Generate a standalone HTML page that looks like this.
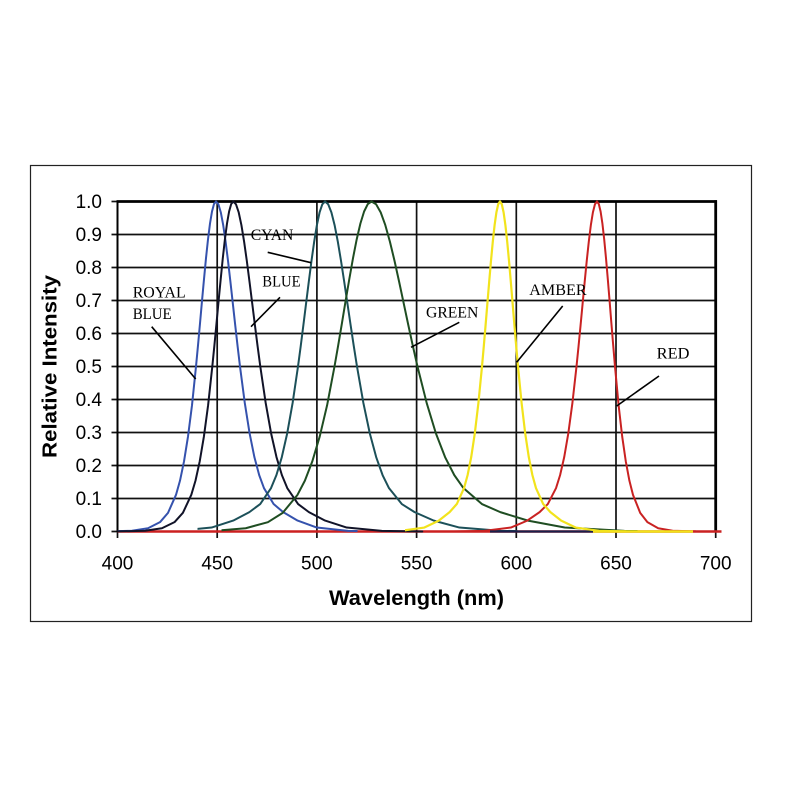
<!DOCTYPE html>
<html>
<head>
<meta charset="utf-8">
<style>
  html,body{margin:0;padding:0;background:#fff;}
  svg{display:block;}
  .tick{font-family:"Liberation Sans",Arial,sans-serif;font-size:19px;fill:#000;}
  .ann{font-family:"Liberation Serif","Times New Roman",serif;font-size:16px;fill:#000;}
  .c path{fill:none;vector-effect:non-scaling-stroke;stroke-linejoin:round;stroke-linecap:round;}
</style>
</head>
<body>
<svg width="800" height="800" viewBox="0 0 800 800" xmlns="http://www.w3.org/2000/svg">
  <defs>
    <clipPath id="crb" clipPathUnits="userSpaceOnUse"><rect x="117.5" y="195" width="240" height="345"/></clipPath>
    <clipPath id="cbl" clipPathUnits="userSpaceOnUse"><rect x="117.5" y="195" width="320" height="345"/></clipPath>
    <clipPath id="ccy" clipPathUnits="userSpaceOnUse"><rect x="197.5" y="195" width="320" height="345"/></clipPath>
    <clipPath id="cgr" clipPathUnits="userSpaceOnUse"><rect x="221.5" y="195" width="416" height="345"/></clipPath>
    <clipPath id="cam" clipPathUnits="userSpaceOnUse"><rect x="405" y="195" width="288.5" height="345"/></clipPath>
    <clipPath id="crd" clipPathUnits="userSpaceOnUse"><rect x="117.5" y="195" width="604" height="345"/></clipPath>
  </defs>

  <rect x="0" y="0" width="800" height="800" fill="#fff"/>
  <!-- outer frame -->
  <rect x="30.5" y="165.5" width="721" height="456" fill="none" stroke="#222" stroke-width="1.2"/>

  <!-- horizontal gridlines -->
  <g stroke="#111" stroke-width="1.7">
    <line x1="111.5" y1="234.5" x2="715.7" y2="234.5"/>
    <line x1="111.5" y1="267.5" x2="715.7" y2="267.5"/>
    <line x1="111.5" y1="300.5" x2="715.7" y2="300.5"/>
    <line x1="111.5" y1="333.5" x2="715.7" y2="333.5"/>
    <line x1="111.5" y1="366.5" x2="715.7" y2="366.5"/>
    <line x1="111.5" y1="399.5" x2="715.7" y2="399.5"/>
    <line x1="111.5" y1="432.5" x2="715.7" y2="432.5"/>
    <line x1="111.5" y1="465.5" x2="715.7" y2="465.5"/>
    <line x1="111.5" y1="498.5" x2="715.7" y2="498.5"/>
    <line x1="111.5" y1="531.5" x2="715.7" y2="531.5"/>
    <line x1="111.5" y1="201.5" x2="117.5" y2="201.5"/>
  </g>
  <!-- vertical gridlines and ticks -->
  <g stroke="#111" stroke-width="1.7">
    <line x1="217.2" y1="201.5" x2="217.2" y2="538"/>
    <line x1="316.9" y1="201.5" x2="316.9" y2="538"/>
    <line x1="416.6" y1="201.5" x2="416.6" y2="538"/>
    <line x1="516.3" y1="201.5" x2="516.3" y2="538"/>
    <line x1="616" y1="201.5" x2="616" y2="538"/>
    <line x1="117.5" y1="531.5" x2="117.5" y2="538"/>
    <line x1="715.7" y1="531.5" x2="715.7" y2="538"/>
  </g>
  <!-- plot borders -->
  <line x1="117.5" y1="200.5" x2="117.5" y2="532" stroke="#000" stroke-width="2"/>
  <line x1="116.5" y1="201.5" x2="717" y2="201.5" stroke="#000" stroke-width="2.8"/>
  <line x1="715.7" y1="200.2" x2="715.7" y2="532" stroke="#000" stroke-width="2.8"/>

  <!-- red baseline (underneath) -->
  <line x1="117.5" y1="531.5" x2="721.5" y2="531.5" stroke="#cc2020" stroke-width="2.4"/>

  <!-- curves -->
  <!-- Royal blue -->
  <g class="c" clip-path="url(#crb)" stroke="#3552ad" stroke-width="2">
    <g transform="translate(216,201.5) scale(-0.20,3.3)"><path d="M0,0 L10,0.77 L20,3.03 L30,6.67 L40,11.47 L50,17.17 L60,23.52 L70,30.12 L80,36.94 L90,43.59 L100,50 L120,61.75 L140,71.23 L160,78.76 L180,84.59 L200,88.89 L240,94.35 L280,97.17 L340,99.01 L420,99.76 L550,99.98 L800,100"/></g>
    <g transform="translate(216,201.5) scale(0.24,3.3)"><path d="M0,0 L10,0.84 L20,3.29 L30,7.15 L40,12.15 L50,17.95 L60,24.28 L70,30.84 L80,37.43 L90,43.85 L100,50 L120,61.08 L140,70.26 L160,77.47 L180,82.92 L200,86.87 L240,91.68 L280,94.13 L340,96.7 L420,98.8 L550,99.8 L700,100"/></g>
  </g>
  <!-- Blue -->
  <g class="c" clip-path="url(#cbl)" stroke="#111328" stroke-width="2">
    <g transform="translate(233.3,201.5) scale(-0.21,3.3)"><path d="M0,0 L10,0.77 L20,3.03 L30,6.67 L40,11.47 L50,17.17 L60,23.52 L70,30.12 L80,36.94 L90,43.59 L100,50 L120,61.75 L140,71.23 L160,78.76 L180,84.59 L200,88.89 L240,94.35 L280,97.17 L340,99.01 L420,99.76 L550,99.98 L800,100"/></g>
    <g transform="translate(233.3,201.5) scale(0.27,3.3)"><path d="M0,0 L10,0.84 L20,3.29 L30,7.15 L40,12.15 L50,17.95 L60,24.28 L70,30.84 L80,37.43 L90,43.85 L100,50 L120,61.08 L140,70.26 L160,77.47 L180,82.92 L200,86.87 L240,91.68 L280,94.13 L340,96.7 L420,98.8 L550,99.8 L700,100"/></g>
  </g>
  <!-- Cyan -->
  <g class="c" clip-path="url(#ccy)" stroke="#1c5059" stroke-width="2">
    <g transform="translate(325,201.5) scale(-0.27,3.3)"><path d="M0,0 L10,0.84 L20,3.29 L30,7.15 L40,12.15 L50,17.95 L60,24.28 L70,30.84 L80,37.43 L90,43.85 L100,50 L120,61.08 L140,70.26 L160,77.47 L180,82.92 L200,86.87 L240,91.68 L280,94.13 L340,96.7 L420,98.8 L550,99.8 L700,100"/></g>
    <g transform="translate(325,201.5) scale(0.32,3.3)"><path d="M0,0 L10,0.84 L20,3.29 L30,7.15 L40,12.15 L50,17.95 L60,24.28 L70,30.84 L80,37.43 L90,43.85 L100,50 L120,61.08 L140,70.26 L160,77.47 L180,82.92 L200,86.87 L240,91.68 L280,94.13 L340,96.7 L420,98.8 L550,99.8 L700,100"/></g>
  </g>
  <!-- Green -->
  <g class="c" clip-path="url(#cgr)" stroke="#1f4d22" stroke-width="2">
    <g transform="translate(371.5,201.5) scale(-0.37,3.3)"><path d="M0,0 L10,0.77 L20,3.03 L30,6.67 L40,11.47 L50,17.17 L60,23.52 L70,30.12 L80,36.94 L90,43.59 L100,50 L120,61.75 L140,71.23 L160,78.76 L180,84.59 L200,88.89 L240,94.35 L280,97.17 L340,99.01 L420,99.76 L550,99.98 L800,100"/></g>
    <g transform="translate(371.5,201.5) scale(0.46,3.3)"><path d="M0,0 L10,0.84 L20,3.29 L30,7.15 L40,12.15 L50,17.95 L60,24.28 L70,30.84 L80,37.43 L90,43.85 L100,50 L120,61.08 L140,70.26 L160,77.47 L180,82.92 L200,86.87 L240,91.68 L280,94.13 L340,96.7 L420,98.8 L550,99.8 L700,100"/></g>
  </g>

  <!-- Red -->
  <g class="c" clip-path="url(#crd)" stroke="#c92222" stroke-width="2">
    <g transform="translate(597,201.5) scale(-0.205,3.3)"><path d="M0,0 L10,0.84 L20,3.29 L30,7.15 L40,12.15 L50,17.95 L60,24.28 L70,30.84 L80,37.43 L90,43.85 L100,50 L120,61.08 L140,70.26 L160,77.47 L180,82.92 L200,86.87 L240,91.68 L280,94.13 L340,96.7 L420,98.8 L550,99.8 L700,100"/></g>
    <g transform="translate(597,201.5) scale(0.18,3.3)"><path d="M0,0 L10,0.77 L20,3.03 L30,6.67 L40,11.47 L50,17.17 L60,23.52 L70,30.12 L80,36.94 L90,43.59 L100,50 L120,61.75 L140,71.23 L160,78.76 L180,84.59 L200,88.89 L240,94.35 L280,97.17 L340,99.01 L420,99.76 L550,99.98 L800,100"/></g>
  </g>

  <!-- baseline segments seen in reference (above red tail) -->
  <line x1="490" y1="531.5" x2="593" y2="531.5" stroke="#1a1f4a" stroke-width="2.2"/>

  <!-- Amber (drawn above red baseline) -->
  <line x1="593" y1="531.5" x2="693" y2="531.5" stroke="#f2e31c" stroke-width="2.4"/>
  <g class="c" clip-path="url(#cam)" stroke="#f2e31c" stroke-width="2.2">
    <g transform="translate(500,201.5) scale(-0.18,3.3)"><path d="M0,0 L10,0.84 L20,3.29 L30,7.15 L40,12.15 L50,17.95 L60,24.28 L70,30.84 L80,37.43 L90,43.85 L100,50 L120,61.08 L140,70.26 L160,77.47 L180,82.92 L200,86.87 L240,91.68 L280,94.13 L340,96.7 L420,98.8 L550,99.8 L700,100"/></g>
    <g transform="translate(500,201.5) scale(0.18,3.3)"><path d="M0,0 L10,0.84 L20,3.29 L30,7.15 L40,12.15 L50,17.95 L60,24.28 L70,30.84 L80,37.43 L90,43.85 L100,50 L120,61.08 L140,70.26 L160,77.47 L180,82.92 L200,86.87 L240,91.68 L280,94.13 L340,96.7 L420,98.8 L550,99.8 L700,100"/></g>
  </g>

  <!-- leader lines -->
  <g stroke="#000" stroke-width="1.6">
    <line x1="151.7" y1="326.7" x2="195.7" y2="379"/>
    <line x1="267.7" y1="252.3" x2="311" y2="262.7"/>
    <line x1="280" y1="297.3" x2="251" y2="326.7"/>
    <line x1="459.3" y1="322.3" x2="411" y2="347.3"/>
    <line x1="562.7" y1="306" x2="516.7" y2="362.3"/>
    <line x1="659" y1="376" x2="616.7" y2="406"/>
  </g>

  <!-- annotations -->
  <text class="ann" x="132.7" y="297.3" textLength="53" lengthAdjust="spacingAndGlyphs">ROYAL</text>
  <text class="ann" x="132.7" y="319" textLength="39" lengthAdjust="spacingAndGlyphs">BLUE</text>
  <text class="ann" x="250.7" y="240" textLength="42.7" lengthAdjust="spacingAndGlyphs">CYAN</text>
  <text class="ann" x="262.3" y="286.7" textLength="38.3" lengthAdjust="spacingAndGlyphs">BLUE</text>
  <text class="ann" x="426" y="317.7" textLength="52.3" lengthAdjust="spacingAndGlyphs">GREEN</text>
  <text class="ann" x="529.3" y="295" textLength="57.3" lengthAdjust="spacingAndGlyphs">AMBER</text>
  <text class="ann" x="656.7" y="358.3" textLength="32.7" lengthAdjust="spacingAndGlyphs">RED</text>

  <!-- y tick labels -->
  <g class="tick" text-anchor="end">
    <text x="102" y="208">1.0</text>
    <text x="102" y="241">0.9</text>
    <text x="102" y="274">0.8</text>
    <text x="102" y="307">0.7</text>
    <text x="102" y="340">0.6</text>
    <text x="102" y="373">0.5</text>
    <text x="102" y="406">0.4</text>
    <text x="102" y="439">0.3</text>
    <text x="102" y="472">0.2</text>
    <text x="102" y="505">0.1</text>
    <text x="102" y="538">0.0</text>
  </g>
  <!-- x tick labels -->
  <g class="tick" text-anchor="middle">
    <text x="117.5" y="569.5">400</text>
    <text x="217.2" y="569.5">450</text>
    <text x="316.9" y="569.5">500</text>
    <text x="416.6" y="569.5">550</text>
    <text x="516.3" y="569.5">600</text>
    <text x="616" y="569.5">650</text>
    <text x="715.7" y="569.5">700</text>
  </g>

  <!-- axis titles -->
  <text x="416.5" y="605" text-anchor="middle" font-family="'Liberation Sans',Arial,sans-serif" font-size="21" font-weight="bold" textLength="175" lengthAdjust="spacingAndGlyphs">Wavelength (nm)</text>
  <text transform="translate(56.5,366.5) rotate(-90)" text-anchor="middle" font-family="'Liberation Sans',Arial,sans-serif" font-size="20" font-weight="bold" textLength="183" lengthAdjust="spacingAndGlyphs">Relative Intensity</text>
</svg>
</body>
</html>
